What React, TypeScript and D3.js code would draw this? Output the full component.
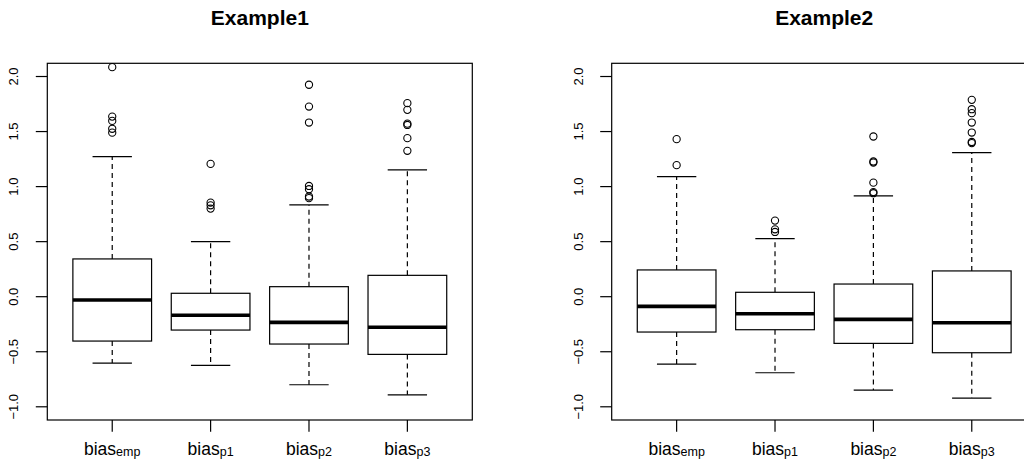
import React from "react";
import * as d3 from "d3";

const categories = ["emp", "p1", "p2", "p3"];
const yTicks = [-1, -0.5, 0, 0.5, 1, 1.5, 2];
const yTickLabels = ["\u22121.0", "\u22120.5", "0.0", "0.5", "1.0", "1.5", "2.0"];

// Example1 box statistics
const ex1Low = [-0.603, -0.624, -0.8, -0.891];
const ex1Q1 = [-0.403, -0.303, -0.43, -0.524];
const ex1Median = [-0.03, -0.169, -0.233, -0.278];
const ex1Q3 = [0.343, 0.031, 0.091, 0.194];
const ex1High = [1.273, 0.5, 0.834, 1.152];
const ex1Outliers = [
  [2.085, 1.636, 1.597, 1.525, 1.49],
  [1.206, 0.855, 0.83, 0.8],
  [1.925, 1.727, 1.582, 1.006, 0.976, 0.91, 0.895],
  [1.758, 1.697, 1.572, 1.56, 1.44, 1.325],
];

// Example2 box statistics
const ex2Low = [-0.612, -0.691, -0.848, -0.921];
const ex2Q1 = [-0.321, -0.3, -0.424, -0.509];
const ex2Median = [-0.088, -0.155, -0.206, -0.236];
const ex2Q3 = [0.243, 0.04, 0.115, 0.234];
const ex2High = [1.091, 0.527, 0.915, 1.309];
const ex2Outliers = [
  [1.431, 1.195],
  [0.691, 0.612, 0.588],
  [1.455, 1.228, 1.218, 1.036, 0.95, 0.94],
  [1.788, 1.703, 1.667, 1.582, 1.491, 1.405, 1.395],
];

const FONT = "'Liberation Sans', Arial, Helvetica, sans-serif";

type PanelProps = {
  title: string;
  left: number;
  low: number[];
  q1: number[];
  med: number[];
  q3: number[];
  high: number[];
  outliers: number[][];
};

const PLOT_W = 425;
const TOP = 63.3;
const BOTTOM = 420;

function Panel({ title, left, low, q1, med, q3, high, outliers }: PanelProps) {
  const x = d3.scaleLinear().domain([0.34, 4.66]).range([left, left + PLOT_W]);
  const y = d3.scaleLinear().domain([-1.12, 2.12]).range([BOTTOM, TOP]);
  const bw = x(0.4) - x(0);
  const cw = x(0.2) - x(0);
  return (
    <g>
      <text
        x={left + PLOT_W / 2}
        y={25}
        textAnchor="middle"
        fontFamily={FONT}
        fontWeight="bold"
        fontSize={21}
      >
        {title}
      </text>
      {/* plot frame */}
      <rect
        x={left}
        y={TOP}
        width={PLOT_W}
        height={BOTTOM - TOP}
        fill="none"
        stroke="#000"
        strokeWidth={1.2}
      />
      {/* y axis */}
      {yTicks.map((t, i) => (
        <g key={"yt" + i}>
          <line x1={left - 11.5} x2={left} y1={y(t)} y2={y(t)} stroke="#000" strokeWidth={1.2} />
          <text
            transform={`translate(${left - 29},${y(t)}) rotate(-90)`}
            textAnchor="middle"
            fontFamily={FONT}
            fontSize={13}
          >
            {yTickLabels[i]}
          </text>
        </g>
      ))}
      {/* x axis */}
      {categories.map((c, i) => (
        <g key={"xt" + i}>
          <line x1={x(i + 1)} x2={x(i + 1)} y1={BOTTOM} y2={BOTTOM + 11.7} stroke="#000" strokeWidth={1.2} />
          <text x={x(i + 1)} y={454.8} textAnchor="middle" fontFamily={FONT} fontSize={17.5}>
            bias
            <tspan fontSize={12.5} dy={1.6}>
              {c}
            </tspan>
          </text>
        </g>
      ))}
      {/* boxes */}
      {categories.map((c, i) => {
        const cx = x(i + 1);
        return (
          <g key={"b" + i} stroke="#000" fill="none">
            <line x1={cx} x2={cx} y1={y(q3[i])} y2={y(high[i])} strokeWidth={1.2} strokeDasharray="5,4" />
            <line x1={cx} x2={cx} y1={y(q1[i])} y2={y(low[i])} strokeWidth={1.2} strokeDasharray="5,4" />
            <line x1={cx - cw} x2={cx + cw} y1={y(high[i])} y2={y(high[i])} strokeWidth={1.2} />
            <line x1={cx - cw} x2={cx + cw} y1={y(low[i])} y2={y(low[i])} strokeWidth={1.2} />
            <rect
              x={cx - bw}
              y={y(q3[i])}
              width={2 * bw}
              height={y(q1[i]) - y(q3[i])}
              fill="#fff"
              strokeWidth={1.2}
            />
            <line x1={cx - bw} x2={cx + bw} y1={y(med[i])} y2={y(med[i])} strokeWidth={3.6} />
            {outliers[i].map((o, j) => (
              <circle key={j} cx={cx} cy={y(o)} r={3.6} strokeWidth={1.1} />
            ))}
          </g>
        );
      })}
    </g>
  );
}

export default function App() {
  return (
    <svg
      width={1024}
      height={460}
      style={{ position: "absolute", left: 0, top: 0, background: "#fff" }}
    >
      <rect width={1024} height={460} fill="#fff" />
      <Panel
        title="Example1"
        left={47.3}
        low={ex1Low}
        q1={ex1Q1}
        med={ex1Median}
        q3={ex1Q3}
        high={ex1High}
        outliers={ex1Outliers}
      />
      <Panel
        title="Example2"
        left={611.7}
        low={ex2Low}
        q1={ex2Q1}
        med={ex2Median}
        q3={ex2Q3}
        high={ex2High}
        outliers={ex2Outliers}
      />
    </svg>
  );
}
